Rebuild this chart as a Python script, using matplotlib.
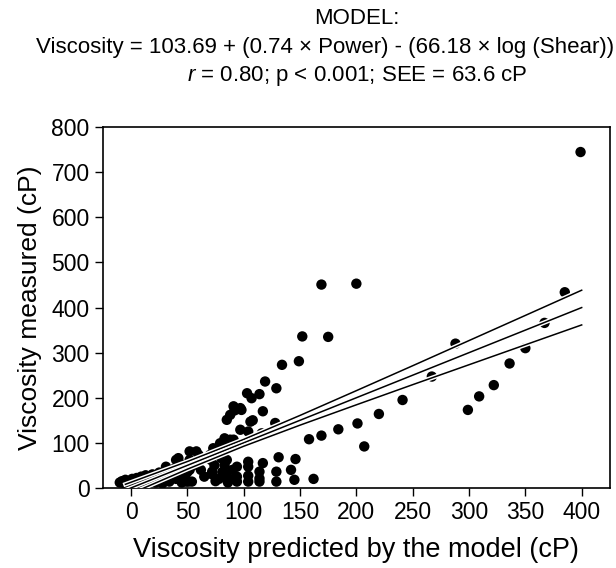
#!/usr/bin/env python
# Measured vs model-predicted viscosity, with the fit line and its confidence band.
import matplotlib
matplotlib.use("Agg")
import matplotlib.pyplot as plt
import matplotlib.patheffects as pe

plt.rcParams["font.family"] = ["Liberation Sans", "DejaVu Sans"]
plt.rcParams["mathtext.fontset"] = "custom"
plt.rcParams["mathtext.it"] = "Liberation Sans:italic"
plt.rcParams["mathtext.rm"] = "Liberation Sans"

# points: predicted (cP), measured (cP)
predicted = [
    -10, -8, -6, -5, -3, -2, 0, 1, 2, 4, 5, 6, 8, 9, 10, 12, 13, 15, 16, 18,
    19, 21, 22, 24, 25, 27, 28, 30, 31, 33, 34, 36, 38, 40, 40, 42, 43, 45, 46, 48,
    49, 50, 52, 52, 54, 55, 58, 60, 62, 65, 31, 42, 51, 52,
    70, 72, 73, 74, 75, 77, 78, 79, 80, 80, 81, 83, 83, 84, 85, 85, 86, 87, 88, 88,
    90, 91, 92, 94, 94, 94, 97, 97, 98, 103, 104, 104, 104, 104, 104, 106, 107, 108,
    114, 114, 114, 114, 116, 117, 117, 119, 128, 129, 129, 129, 131, 134, 142, 145,
    146, 149, 152, 158, 162, 169, 169, 175, 184, 200, 201, 207, 220, 241, 267, 288,
    299, 309, 322, 336, 350, 367, 385, 399, 71, 82, 85, 91, 72, 85,
]
measured = [
    12, 15, 10, 18, 12, 8, 15, 20, 10, 14, 22, 8, 16, 25, 12, 18, 28, 10, 22, 15,
    30, 20, 12, 26, 34, 18, 10, 30, 22, 38, 14, 28, 42, 20, 62, 34, 55, 12, 45, 25,
    14, 35, 62, 81, 14, 50, 81, 73, 40, 25, 47, 66, 14, 40,
    73, 30, 88, 50, 15, 84, 20, 99, 66, 96, 35, 51, 110, 25, 103, 151, 12, 20, 107, 162,
    40, 107, 172, 47, 25, 14, 129, 177, 173, 210, 125, 58, 47, 27, 14, 147, 199, 150,
    208, 36, 21, 14, 121, 170, 55, 236, 144, 221, 36, 14, 68, 273, 40, 18,
    64, 281, 336, 108, 20, 116, 451, 335, 130, 453, 143, 92, 164, 195, 247, 320,
    173, 203, 228, 276, 310, 366, 434, 745, 62, 36, 22, 181, 36, 62,
]

# fit line (identity) and the two confidence limits
fit_x = [-5, 50, 100, 150, 200, 250, 300, 350, 400]
fit_y = [-5, 50, 100, 150, 200, 250, 300, 350, 400]
upper = [8, 58.5, 107.6, 160.8, 215.7, 271, 326.8, 382.6, 438.5]
lower = [-18, 41.5, 92.4, 139.2, 184.3, 229, 273.2, 317.4, 361.5]

fig = plt.figure(figsize=(6.16, 5.68), dpi=100)
ax = fig.add_axes([0.167, 0.141, 0.823, 0.635])

ax.scatter(predicted, measured, s=56, color="black", edgecolors="none", zorder=2)
halo = [pe.Stroke(linewidth=3.2, foreground="white"), pe.Normal()]
for ys in (upper, fit_y, lower):
    ax.plot(fit_x, ys, color="black", lw=1.1, zorder=3, path_effects=halo)

ax.set_xlim(-25, 425)
ax.set_ylim(0, 800)
ax.set_xticks(range(0, 401, 50))
ax.set_yticks(range(0, 801, 100))
ax.tick_params(direction="out", length=6, width=1, labelsize=16.5, colors="black")
for s in ax.spines.values():
    s.set_linewidth(1.2)

ax.set_xlabel("Viscosity predicted by the model (cP)", fontsize=19.5, labelpad=9)
ax.set_ylabel("Viscosity measured (cP)", fontsize=19, labelpad=7)

fig.text(357 / 616, 1 - 18 / 568, "MODEL:", ha="center", va="center", fontsize=16)
fig.text(325 / 616, 1 - 47 / 568,
         "Viscosity = 103.69 + (0.74 \u00d7 Power) - (66.18 \u00d7 log (Shear))",
         ha="center", va="center", fontsize=16)
fig.text(357 / 616, 1 - 76 / 568, "$r$ = 0.80; p < 0.001; SEE = 63.6 cP",
         ha="center", va="center", fontsize=16)

fig.savefig("out.png", dpi=100)
